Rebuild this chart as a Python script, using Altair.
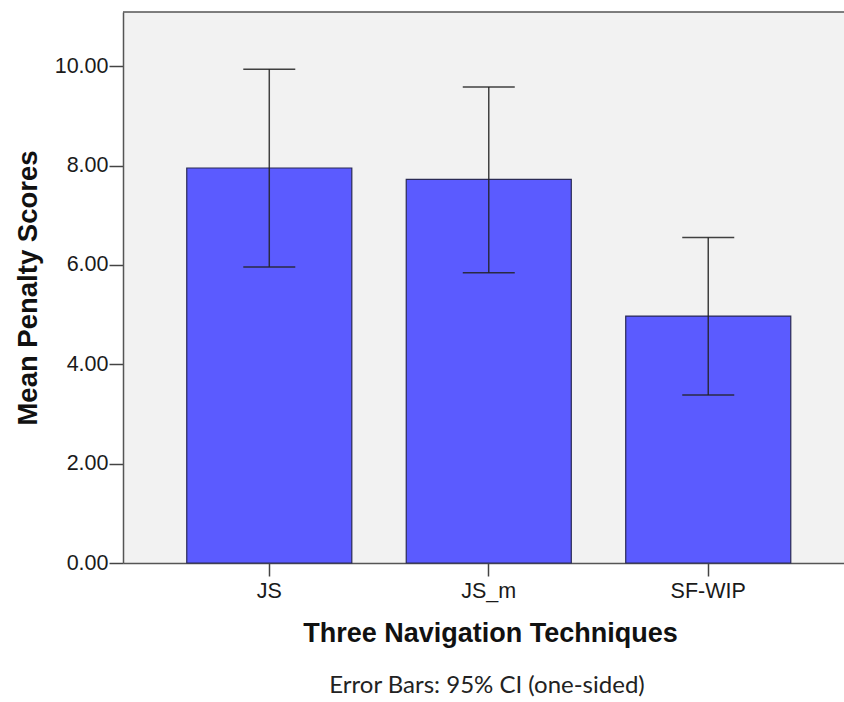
import altair as alt
import pandas as pd

techniques = ["JS", "JS_m", "SF-WIP"]
means = [7.95, 7.72, 4.97]
ci_low = [5.96, 5.84, 3.38]
ci_high = [9.94, 9.58, 6.55]
note = ["Error Bars: 95% CI (one-sided)"]

df = pd.DataFrame({"tech": techniques, "mean": means, "lo": ci_low, "hi": ci_high})

W, H = 721, 551
FONT = "Liberation Sans"

xs = alt.Scale(domain=techniques, paddingInner=0.248, paddingOuter=0.2665, align=0.545)
ys = alt.Scale(domain=[0, 11.09], nice=False, zero=True)

x_axis = alt.Axis(
    title="Three Navigation Techniques", labelAngle=0, labelFont=FONT, labelFontSize=21.5,
    labelColor="#1a1a1a", labelPadding=4, tickSize=13, tickColor="#444", tickWidth=1.5,
    domainColor="#555", domainWidth=1.5, titleFont=FONT, titleFontSize=27, titleFontWeight="bold",
    titleColor="#111", titleX=367, titleY=70, titleBaseline="middle", titleAlign="center",
)
y_axis = alt.Axis(
    title="Mean Penalty Scores", values=[0, 2, 4, 6, 8, 10], format=".2f", grid=False,
    labelFont=FONT, labelFontSize=21.5, labelColor="#1a1a1a", labelPadding=1, tickSize=14,
    tickColor="#444", tickWidth=1.5, domainColor="#555", domainWidth=1.5,
    titleFont=FONT, titleFontSize=27.5, titleFontWeight="bold", titleColor="#111",
    titleX=-95, titleY=H / 2, titleAngle=-90, titleBaseline="middle", titleAlign="center",
)

base = alt.Chart(df)

bars = base.mark_bar(color="#5b5bff", stroke="#2a2a55", strokeWidth=1.2).encode(
    x=alt.X("tech:N", scale=xs, axis=x_axis, sort=techniques),
    y=alt.Y("mean:Q", scale=ys, axis=y_axis),
)

err = base.mark_rule(color="#222", strokeWidth=1.5, opacity=0.85).encode(
    x=alt.X("tech:N", scale=xs, sort=techniques),
    y=alt.Y("lo:Q", scale=ys),
    y2="hi:Q",
)
cap_hi = base.mark_tick(color="#222", size=52, thickness=1.5, opacity=0.85).encode(
    x=alt.X("tech:N", scale=xs, sort=techniques),
    y=alt.Y("hi:Q", scale=ys),
)
cap_lo = base.mark_tick(color="#222", size=52, thickness=1.5, opacity=0.85).encode(
    x=alt.X("tech:N", scale=xs, sort=techniques),
    y=alt.Y("lo:Q", scale=ys),
)

top_border = alt.Chart(pd.DataFrame({"a": [0]})).mark_rule(color="#555", strokeWidth=1.5).encode(
    x=alt.value(0), x2=alt.value(W), y=alt.value(0)
)

footnote = alt.Chart(pd.DataFrame({"t": note})).mark_text(
    font="Lato", fontSize=24, color="#222", align="center", baseline="middle"
).encode(x=alt.value(364), y=alt.value(674), text="t:N")

chart = alt.layer(bars, err, cap_hi, cap_lo, top_border, footnote).properties(
    width=W, height=H,
    autosize=alt.AutoSizeParams(type="none"),
    padding={"left": 123, "top": 12, "right": 0, "bottom": 139},
    background="white",
).configure_view(fill="#f2f2f2", stroke=None)

chart.save("out.html", embed_options={"renderer": "svg", "actions": False})
